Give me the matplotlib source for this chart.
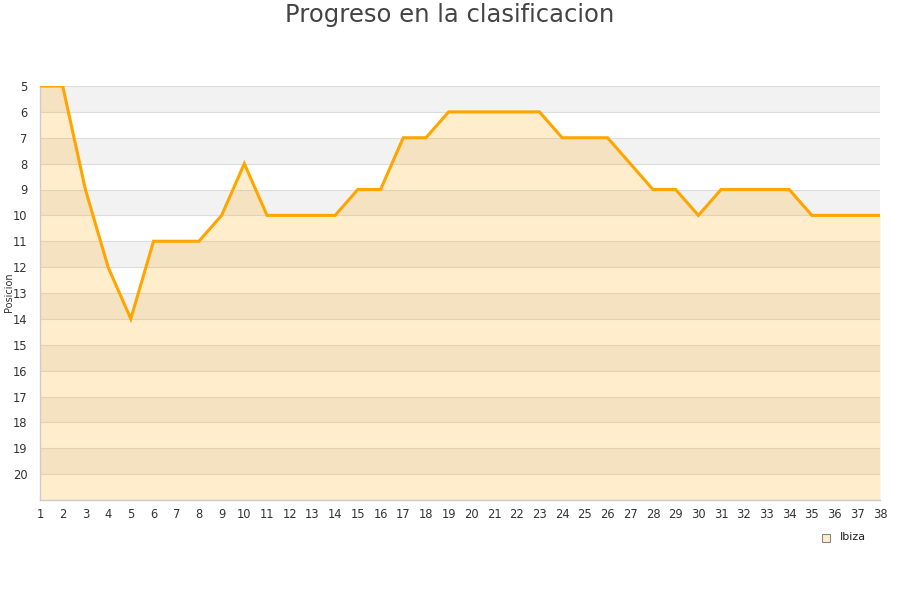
import matplotlib
matplotlib.use("Agg")
import matplotlib.pyplot as plt
import numpy as np

jornadas = list(range(1, 39))
posiciones = [5, 5, 9, 12, 14, 11, 11, 11, 10, 8, 10, 10, 10, 10, 9, 9, 7, 7, 6, 6,
              6, 6, 6, 7, 7, 7, 8, 9, 9, 10, 9, 9, 9, 9, 10, 10, 10, 10]
y_ticks = list(range(5, 21))
team = "Ibiza"
title = "Progreso en la clasificacion"
ylabel = "Posicion"

fig = plt.figure(figsize=(9, 6), dpi=100)
ax = fig.add_axes([40/900, 1 - 500/600, 840/900, 414/600])

ymin, ymax = 5, 21
# alternating background bands
for y0 in range(ymin, ymax):
    col = "#f2f2f2" if (y0 % 2 == 1) else "#ffffff"
    ax.axhspan(y0, y0 + 1, color=col, zorder=0, lw=0)
for y0 in range(ymin, ymax + 1):
    ax.axhline(y0, color="#dddddd", lw=0.8, zorder=1)

ax.fill_between(jornadas, posiciones, ymax, color="orange", alpha=0.2, lw=0, zorder=2)
ax.plot(jornadas, posiciones, color="#ffa500", lw=2.2, zorder=3, solid_joinstyle="miter")

ax.set_xlim(1, 38)
ax.set_ylim(ymax, ymin)
ax.set_xticks(jornadas)
ax.set_yticks(y_ticks)
ax.tick_params(axis="both", length=0, labelsize=8.3, colors="#333333")
ax.tick_params(axis="x", pad=6)
ax.tick_params(axis="y", pad=9)
for s in ["top", "right"]:
    ax.spines[s].set_visible(False)
for s in ["left", "bottom"]:
    ax.spines[s].set_color("#cccccc")
    ax.spines[s].set_linewidth(1)

fig.text(0.5, 1 - 15/600, title, ha="center", va="center", fontsize=17.5, color="#444444")
fig.text(9/900, 1 - 292/600, ylabel, rotation=90, ha="center", va="center", fontsize=7, color="#333333")

# legend
fig.patches.append(plt.Rectangle((822/900, 1 - 542/600), 8/900, 8/600, transform=fig.transFigure,
                                 facecolor="#ffedcc", edgecolor="#888888", lw=0.8))
fig.text(840/900, 1 - 537/600, team, ha="left", va="center", fontsize=8, color="#222222")

fig.savefig("out.png", dpi=100)
